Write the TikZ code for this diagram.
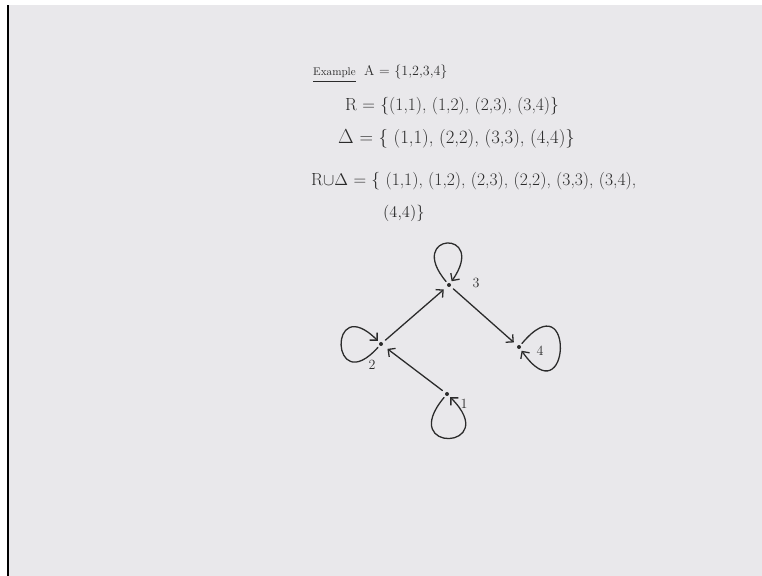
\documentclass[tikz,border=0pt]{standalone}
\usepackage{tikz}
\usetikzlibrary{positioning, arrows.meta}
\definecolor{boardGrey}{HTML}{E9E8EB}
\definecolor{penInk}{HTML}{2B2B2B}

\tikzset{
    handtext/.style={text=penInk, anchor=west, inner sep=0pt,
                     font=\fontsize{15}{17}\selectfont},
    vertex/.style={circle, fill=penInk, inner sep=0pt, minimum size=1.2mm},
    vlabel/.style={text=penInk, inner sep=0pt, font=\fontsize{12}{14}\selectfont},
    penline/.style={draw=penInk, line width=1.1pt, line cap=round,
                    -{Straight Barb[length=1.6mm, width=3.2mm]}},
}

\begin{document}
\begin{tikzpicture}[x=0.3mm, y=-0.3mm]
    \useasboundingbox (0,0) rectangle (762,576);
    \fill[white] (0,0) rectangle (762,576);
    \fill[boardGrey] (9,5) rectangle (762,576);
    \fill[black] (6.5,5) rectangle (9,576);

    % written lines
    \node[handtext, font=\fontsize{9.5}{12}\selectfont] (ex) at (313,73) {Example};
    \draw[penInk, line width=0.9pt] ([yshift=-3pt]ex.south west) -- ([yshift=-3pt]ex.south east);
    \node[handtext, font=\fontsize{12}{14}\selectfont] (setA) at (364,72) {A = \{1,2,3,4\}};
    \node[handtext] (setR) at (345,106) {R = \{(1,1), (1,2), (2,3), (3,4)\}};
    \node[handtext, font=\fontsize{16}{18}\selectfont] (setD) at (338,139) {$\Delta$ = \{ (1,1), (2,2), (3,3), (4,4)\}};
    \node[handtext] (setU) at (311,181) {R$\cup\Delta$ = \{ (1,1), (1,2), (2,3), (2,2), (3,3), (3,4),};
    \node[handtext, font=\fontsize{14}{16}\selectfont] (setUb) at (383,213) {(4,4)\}};

    % digraph
    \node[vertex] (v3) at (449,285) {};
    \node[vertex] (v2) at (381,344) {};
    \node[vertex] (v4) at (519,347) {};
    \node[vertex] (v1) at (447,394) {};
    \node[vlabel] (l3) at (476,283) {3};
    \node[vlabel] (l2) at (372,365) {2};
    \node[vlabel] (l4) at (540,351) {4};
    \node[vlabel] (l1) at (464,404) {1};

    \draw[penline, shorten <=3pt, shorten >=4pt] (v2) -- (v3);
    \draw[penline, shorten <=3pt, shorten >=4pt] (v3) -- (v4);
    \draw[penline, shorten <=3pt, shorten >=5pt] (v1) -- (v2);

    \draw[penline, shorten <=2pt, shorten >=2pt] (v3) to[out=130, in=55, distance=20mm] (v3);
    \draw[penline, shorten <=2pt, shorten >=2pt] (v2) to[out=228, in=135, distance=22mm] (v2);
    \draw[penline, shorten <=2pt, shorten >=2pt] (v4) to[out=50, in=-55, distance=26mm] (v4);
    \draw[penline, shorten <=2pt, shorten >=2pt] (v1) to[out=-130, in=-45, distance=23mm] (v1);
\end{tikzpicture}
\end{document}
